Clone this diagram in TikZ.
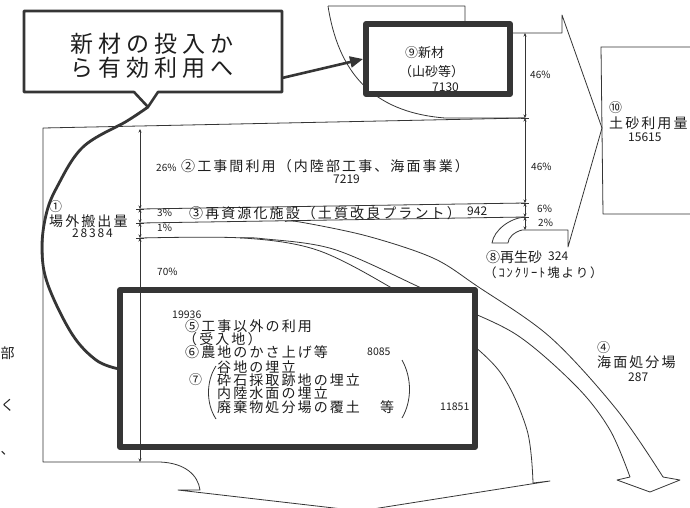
\documentclass[tikz,border=0pt]{standalone}
\usepackage{fontspec}
\setmainfont{Noto Sans CJK JP}
\newfontfamily\jpn{Noto Sans CJK JP}
\newfontfamily\jpw{Noto Sans CJK JP}[LetterSpace=15]
\newfontfamily\jpc{Noto Sans CJK JP}[LetterSpace=22]
\usetikzlibrary{arrows.meta}
\definecolor{ink}{HTML}{353535}
\definecolor{txt}{HTML}{1E1E1E}
\begin{document}
\begin{tikzpicture}[x=1pt,y=-1pt,line join=round,
  flow/.style={draw=ink,line width=0.8pt},
  ruler/.style={draw=ink,line width=0.7pt,{Stealth[length=3.5pt,width=3pt]}-{Stealth[length=3.5pt,width=3pt]}},
  heavybox/.style={draw=ink,line width=6pt,fill=white,inner sep=0pt},
  lbl/.style={inner sep=0pt,anchor=west,text=txt,font=\jpw\fontsize{14}{16}\selectfont},
  lbs/.style={inner sep=0pt,anchor=west,text=txt,font=\jpn\fontsize{13}{15}\selectfont},
  num/.style={inner sep=0pt,anchor=west,text=txt,font=\jpn\fontsize{12}{14}\selectfont},
  bnum/.style={inner sep=0pt,anchor=west,text=txt,font=\jpn\fontsize{10.5}{12}\selectfont},
  pct/.style={inner sep=0pt,anchor=west,text=txt,font=\jpn\fontsize{10}{12}\selectfont},
  frag/.style={inner sep=0pt,anchor=west,text=txt,font=\jpn\fontsize{14}{16}\selectfont},
]
\useasboundingbox (0,0) rectangle (690,507);
\fill[white] (0,0) rectangle (690,507);
\begin{scope}
\clip (0,0) rectangle (690,507);

% ---- flows ----
% new material band and arrow into (10)
\draw[flow] (328,6) -- (465,6) -- (465,26) .. controls (465,31) and (472,33) .. (482,33)
  -- (562,33) -- (562,15) -- (602,128) -- (568,247) -- (568,230) -- (522,230)
  .. controls (514,232) and (508,238) .. (508,243) -- (492,243)
  .. controls (494,230) and (510,218) .. (525,217);
\draw[flow] (328,6) .. controls (338,70) and (370,112) .. (445,118) -- (525,118);
% outer frame and big lower arrow
\draw[flow] (525,118) -- (43,128) -- (43,462) -- (160,462)
  .. controls (185,463) and (198,475) .. (200,490) -- (178,490) -- (360,511)
  -- (550,481) -- (533,483);
% (3) band
\draw[flow] (140,209) -- (525,203);
\draw[flow] (140,223) -- (525,217);
% curves
\draw[flow] plot[smooth,tension=0.55] coordinates {(140,238) (243,238) (317,250) (390,287) (450,327) (500,372) (527,430) (533,483)};
\draw[flow] plot[smooth,tension=0.55] coordinates {(240,238) (262,238.6) (333,249) (417,286) (450,303) (517,335) (577,387) (610,430) (630,477)};
\draw[flow] (630,477) -- (617,480) -- (650,492) -- (680,480) -- (663,477);
\draw[flow] plot[smooth,tension=0.55] coordinates {(285,221.6) (300,222) (367,236) (433,258) (477,286) (550,337) (617,410) (663,477)};
% (10) box
\draw[flow] (695,47) -- (601,47) -- (603,214) -- (695,214);

% ---- boxes ----
\node[heavybox,minimum width=144pt,minimum height=70pt] (box9) at (438,59) {};
\node[heavybox,minimum width=355pt,minimum height=157pt] (box567) at (297.5,368.5) {};
\draw[draw=ink,line width=2.6pt,fill=white] (24,11) -- (282,11) -- (282,92) -- (158,92)
  -- (148,107) coordinate (calltip) -- (134,92) -- (24,92) -- cycle;
\coordinate (callR) at (282,78);
\node[inner sep=0pt,text=txt,align=center,font=\jpc\fontsize{23}{24}\selectfont] (callout) at (152,56) {新材の投入か\\ら有効利用へ};
\draw[draw=ink,line width=2.6pt,-{Triangle[length=13pt,width=11pt]}] (callR) -- (box9.west);
\draw[draw=ink,line width=2.8pt] plot[smooth,tension=0.6] coordinates {(calltip) (127,121) (83,147) (57,187) (46,215) (42,250) (48,285) (72,334) (96,360) (box567.west)};

% ---- rulers ----
\foreach \a/\b in {129/209,209/223,223/238,238/462} \draw[ruler] (140,\a) -- (140,\b);
\foreach \y in {209,223,238} \draw[flow,line width=0.7pt] (136,\y) -- (144,\y);
\foreach \a/\b in {33/118,118/203,203/217,217/230} \draw[ruler] (525,\a) -- (525,\b);
\foreach \y in {118,203,217} \draw[flow,line width=0.7pt] (521,\y) -- (529,\y);

% ---- texts ----
\node[lbs] (t9a) at (405,53) {⑨新材};
\node[lbs] (t9b) at (399,72) {（山砂等）};
\node[num] (t9c) at (432,87) {7130};
\node[pct] (p46a) at (530,75) {46\%};
\node[pct] (p46b) at (531,167) {46\%};
\node[pct] (p6) at (537,209) {6\%};
\node[pct] (p2) at (538,223) {2\%};
\node[lbs] (t10a) at (609,108) {⑩};
\node[lbl] (t10b) at (609,123) {土砂利用量};
\node[num] (t10c) at (628,137) {15615};
\node[pct] (p26) at (156,168) {26\%};
\node[lbl] (t2) at (181,166) {②工事間利用（内陸部工事、海面事業）};
\node[num] (t2n) at (333,179) {7219};
\node[lbs] (t1a) at (49,207) {①};
\node[lbl] (t1b) at (49,221) {場外搬出量};
\node[num,font=\jpw\fontsize{12}{14}\selectfont] (t1c) at (72,233) {28384};
\node[pct] (p3) at (157,213) {3\%};
\node[pct] (p1) at (157,228) {1\%};
\node[pct] (p70) at (157,272) {70\%};
\node[lbl] (t3) at (189,213) {③再資源化施設（土質改良プラント）};
\node[num] (t3n) at (467,211) {942};
\node[lbs,font=\jpn\fontsize{14}{16}\selectfont] (t8a) at (486,257) {⑧再生砂};
\node[num] (t8n) at (548,256) {324};
\node[lbs,font=\jpw\fontsize{12.5}{14}\selectfont] (t8b) at (484,273) {（ｺﾝｸﾘｰﾄ塊より）};
\node[lbs] (t4a) at (597,348) {④};
\node[lbl] (t4b) at (597,362) {海面処分場};
\node[num] (t4n) at (628,377) {287};
% box 5-6-7 contents
\node[bnum] (b0) at (172,315) {19936};
\node[lbl] (b5) at (185,326) {⑤工事以外の利用};
\node[lbl] (b5b) at (183,339) {（受入地）};
\node[lbl] (b6) at (185,352) {⑥農地のかさ上げ等};
\node[bnum] (b6n) at (367,352) {8085};
\node[lbl] (b7a) at (217,367) {谷地の埋立};
\node[lbs] (b7) at (189,380) {⑦};
\node[lbl] (b7b) at (217,380) {砕石採取跡地の埋立};
\node[lbl] (b7c) at (217,393) {内陸水面の埋立};
\node[lbl] (b7d) at (217,407) {廃棄物処分場の覆土};
\node[lbl] (b7e) at (380,407) {等};
\node[bnum] (b7n) at (440,407) {11851};
\draw[flow] (216,366) .. controls (206,381) and (206,404) .. (216,419);
\draw[flow] (402,360) .. controls (412,378) and (412,401) .. (402,418);
% fragments of the neighbouring page at the left edge
\node[frag] (f1) at (0.5,353) {部};
\node[frag] (f2) at (0.5,405) {く};
\node[frag] (f3) at (0.5,453) {、};
\end{scope}
\end{tikzpicture}
\end{document}
